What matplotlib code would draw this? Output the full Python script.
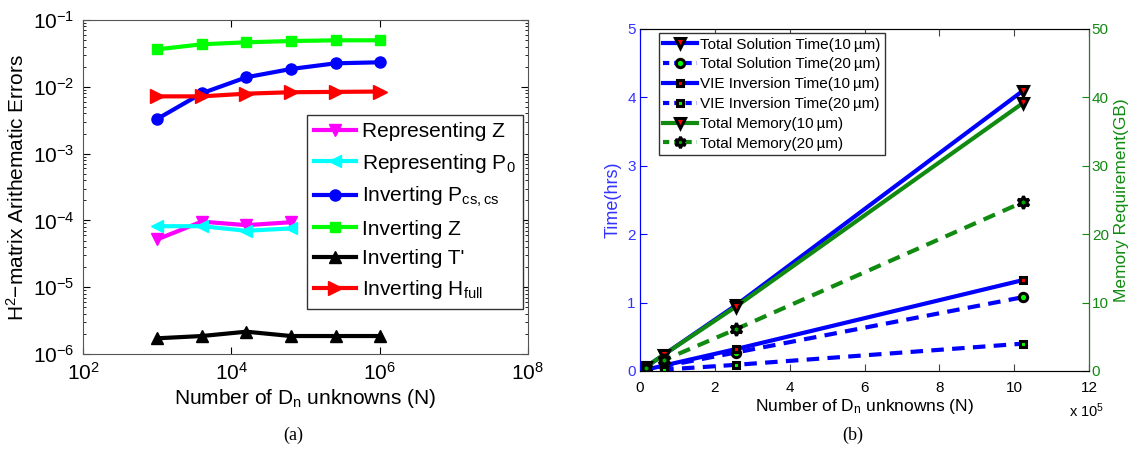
import matplotlib
matplotlib.use('Agg')
import matplotlib.pyplot as plt
import numpy as np
from matplotlib.lines import Line2D
from matplotlib.ticker import NullLocator, FixedLocator, LogLocator

plt.rcParams['font.family'] = ['Liberation Sans', 'DejaVu Sans']
plt.rcParams['mathtext.fontset'] = 'custom'
plt.rcParams['mathtext.rm'] = 'Liberation Sans'
plt.rcParams['mathtext.it'] = 'Liberation Sans'

# ── Data (a): H2-matrix arithmetic errors ────────────────────────────────────
n_unknowns = [1000, 4000, 16000, 64000, 256000, 1024000]
err_rep_z = [5.2e-5, 9.6e-5, 8.5e-5, 9.4e-5]
err_rep_p0 = [8.2e-5, 8.2e-5, 7.0e-5, 7.6e-5]
err_inv_pcs = [0.0033, 0.0080, 0.0139, 0.0185, 0.0225, 0.0233]
err_inv_z = [0.0364, 0.0433, 0.0464, 0.0485, 0.0497, 0.0497]
err_inv_t = [1.72e-6, 1.86e-6, 2.16e-6, 1.86e-6, 1.86e-6, 1.86e-6]
err_inv_h = [0.0072, 0.0072, 0.0079, 0.0083, 0.0084, 0.0085]

# ── Data (b): timing (hrs) and memory (GB) ───────────────────────────────────
t_total_10 = [0.005, 0.015, 0.06, 0.24, 0.96, 4.10]
t_total_20 = [0.002, 0.006, 0.02, 0.07, 0.27, 1.08]
t_vie_10 = [0.002, 0.006, 0.02, 0.08, 0.32, 1.33]
t_vie_20 = [0.001, 0.002, 0.006, 0.02, 0.09, 0.40]
mem_10 = [0.05, 0.15, 0.6, 2.4, 9.4, 39.2]
mem_20 = [0.03, 0.1, 0.4, 1.6, 6.1, 24.7]

BLUE = '#0000ff'
DKGREEN = '#108a10'

fig = plt.figure(figsize=(11.29, 4.51), dpi=100)

# ── Panel (a) ────────────────────────────────────────────────────────────────
ax = fig.add_axes([0.0735, 0.215, 0.394, 0.7406])
lw = 3
ax.plot(n_unknowns[:4], err_rep_z, color='#ff00ff', lw=lw, marker='v', ms=9, label='Representing Z')
ax.plot(n_unknowns[:4], err_rep_p0, color='#00ffff', lw=lw, marker='<', ms=9, label='Representing P$_0$')
ax.plot(n_unknowns, err_inv_pcs, color=BLUE, lw=lw, marker='o', ms=8, label='Inverting P$_{\\rm cs,cs}$')
ax.plot(n_unknowns, err_inv_z, color='#00ff00', lw=lw, marker='s', ms=7, label='Inverting Z')
ax.plot(n_unknowns, err_inv_t, color='k', lw=lw, marker='^', ms=9, label="Inverting T'")
ax.plot(n_unknowns, err_inv_h, color='#ff0000', lw=lw, marker='>', ms=10, label='Inverting H$_{\\rm full}$')
ax.set_xscale('log')
ax.set_yscale('log')
ax.set_xlim(1e2, 1e8)
ax.set_ylim(1e-6, 1e-1)
ax.xaxis.set_major_locator(FixedLocator([1e2, 1e4, 1e6, 1e8]))
ax.xaxis.set_minor_locator(NullLocator())
ax.yaxis.set_minor_locator(LogLocator(base=10, subs=np.arange(2, 10)))
ax.yaxis.set_minor_formatter(plt.NullFormatter())
ax.tick_params(direction='in', top=True, right=True, labelsize=15, length=5, pad=6)
ax.tick_params(which='minor', direction='in', right=True, length=2.5)
for s in ax.spines.values():
    s.set_color('#555555')
ax.set_xlabel('Number of D$_{\\rm n}$ unknowns (N)', fontsize=15, labelpad=2)
ax.set_ylabel('H$^2$\u2212matrix Arithematic Errors', fontsize=15, labelpad=4)
leg = ax.legend(loc='upper left', bbox_to_anchor=(0.503, 0.716), borderaxespad=0, fontsize=15,
                handlelength=2.0, handletextpad=0.3, labelspacing=0.5,
                borderpad=0.35, fancybox=False, edgecolor='#333333', framealpha=1)
leg.get_frame().set_linewidth(1.0)
fig.text(0.26, 0.025, '(a)', family='Liberation Serif', fontsize=13, ha='center')

# ── Panel (b) ────────────────────────────────────────────────────────────────
n5 = np.array(n_unknowns) / 1e5
bx = fig.add_axes([0.5669, 0.1774, 0.3977, 0.7583])
mk = dict(mec='k', mew=2.2)
bx.plot(n5, t_total_10, color=BLUE, lw=3, marker='v', ms=7, mfc='#ff0000', **mk)
bx.plot(n5, t_total_20, color=BLUE, lw=3, ls='--', dashes=(3, 2), marker='o', ms=6, mfc='#00ff00', **mk)
bx.plot(n5, t_vie_10, color=BLUE, lw=3, marker='s', ms=5, mfc='#ff0000', **mk)
bx.plot(n5, t_vie_20, color=BLUE, lw=3, ls='--', dashes=(3, 2), marker='s', ms=5, mfc='#00ff00', **mk)
bx.set_xlim(0, 12)
bx.set_ylim(0, 5)
bx.set_xticks(range(0, 13, 2))
bx.set_yticks(range(0, 6))
bx.tick_params(direction='in', top=True, labelsize=11, length=5)
bx.tick_params(axis='y', colors=BLUE, labelcolor='#3333ff', pad=3)
bx.tick_params(axis='x', colors='#444444', labelcolor='k', pad=7)
bx.spines['left'].set_color(BLUE)
bx.spines['top'].set_color('#555555')
bx.spines['bottom'].set_color('#555555')
bx.set_ylabel('Time(hrs)', color='#3333ff', fontsize=13, labelpad=4)
bx.set_xlabel('Number of D$_{\\rm n}$ unknowns (N)', fontsize=12.5, labelpad=2)

cx = bx.twinx()
cx.plot(n5, mem_10, color=DKGREEN, lw=3, marker='v', ms=7, mfc='#ff0000', **mk)
cx.plot(n5, mem_20, color=DKGREEN, lw=3, ls='--', dashes=(3, 2), marker=(6, 1, 0), ms=9,
        mfc='#00aa00', mec='k', mew=2.2)
cx.set_ylim(0, 50)
cx.set_yticks(range(0, 51, 10))
cx.tick_params(direction='in', labelsize=11, length=5, colors=DKGREEN, pad=2)
cx.spines['right'].set_color(DKGREEN)
cx.spines['left'].set_color(BLUE)
cx.set_ylabel('Memory Requirement(GB)', color=DKGREEN, fontsize=12.5, labelpad=4)

handles = [
    Line2D([], [], color=BLUE, lw=3, marker='v', ms=7, mfc='#ff0000', **mk),
    Line2D([], [], color=BLUE, lw=3, ls='--', dashes=(1.5, 1.2), marker='o', ms=6, mfc='#00ff00', **mk),
    Line2D([], [], color=BLUE, lw=3, marker='s', ms=5, mfc='#ff0000', **mk),
    Line2D([], [], color=BLUE, lw=3, ls='--', dashes=(1.5, 1.2), marker='s', ms=5, mfc='#00ff00', **mk),
    Line2D([], [], color=DKGREEN, lw=3, marker='v', ms=7, mfc='#ff0000', **mk),
    Line2D([], [], color=DKGREEN, lw=3, ls='--', dashes=(1.5, 1.2), marker=(6, 1, 0), ms=8,
           mfc='#00aa00', mec='k', mew=2.2),
]
labels = ['Total Solution Time(10\u2009\u00b5m)', 'Total Solution Time(20\u2009\u00b5m)',
          'VIE Inversion Time(10\u2009\u00b5m)', 'VIE Inversion Time(20\u2009\u00b5m)',
          'Total Memory(10\u2009\u00b5m)', 'Total Memory(20\u2009\u00b5m)']
leg2 = cx.legend(handles, labels, loc='upper left', bbox_to_anchor=(0.042, 0.988), borderaxespad=0,
                 fontsize=11, handlelength=2.2, handletextpad=0.2, labelspacing=0.38,
                 borderpad=0.3, fancybox=False, edgecolor='#333333', framealpha=1)
leg2.get_frame().set_linewidth(1.0)
fig.text(0.947, 0.075, 'x 10$^5$', fontsize=10.5, ha='left')
fig.text(0.755, 0.025, '(b)', family='Liberation Serif', fontsize=13, ha='center')

fig.savefig('out.png', dpi=100)
